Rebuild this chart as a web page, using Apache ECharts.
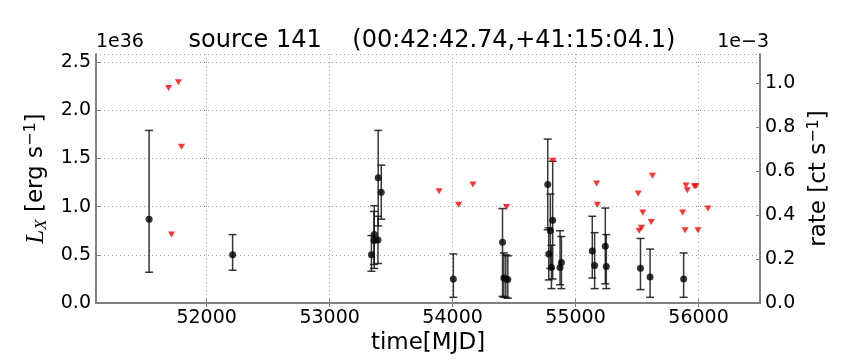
<!DOCTYPE html>
<html>
<head>
<meta charset="utf-8">
<script src="https://cdn.jsdelivr.net/npm/echarts@6/dist/echarts.min.js"></script>
<style>
  html, body { margin: 0; padding: 0; background: #fff; }
  #chart { width: 864px; height: 360px; }
</style>
</head>
<body>
<div id="chart"></div>
<script>
// detections (L_X in 1e36 erg/s) with error bar ends
const detMjd = [51532, 52211, 53340, 53361, 53363, 53393, 53395, 53420, 54006, 54406, 54417, 54433, 54449,
  54774, 54782, 54795, 54804, 54814, 54874, 54885, 55136, 55155, 55242, 55250, 55528, 55606, 55879]
const detLx = [0.87, 0.50, 0.50, 0.65, 0.71, 0.655, 1.30, 1.15, 0.25, 0.63, 0.26, 0.25, 0.245,
  1.23, 0.51, 0.75, 0.37, 0.86, 0.37, 0.42, 0.54, 0.39, 0.59, 0.38, 0.36, 0.27, 0.25]
const detLo = [0.32, 0.34, 0.33, 0.40, 0.36, 0.41, 0.80, 0.87, 0.06, 0.07, 0.06, 0.06, 0.05,
  0.76, 0.24, 0.36, 0.15, 0.25, 0.19, 0.15, 0.26, 0.15, 0.20, 0.15, 0.14, 0.06, 0.06]
const detHi = [1.79, 0.71, 0.70, 0.95, 1.01, 0.90, 1.79, 1.43, 0.51, 0.98, 0.52, 0.50, 0.49,
  1.70, 0.78, 1.13, 0.60, 1.47, 0.75, 0.69, 0.90, 0.73, 0.985, 0.71, 0.67, 0.56, 0.52]

// upper limits
const ulMjd = [51690, 51714, 51770, 51795, 53890, 54049, 54165, 54438, 54814, 55171, 55177,
  55509, 55517, 55536, 55547, 55615, 55625, 55871, 55890, 55898, 55909, 55966, 55979, 55995, 56077]
const ulLx = [2.23, 0.71, 2.29, 1.62, 1.16, 1.02, 1.23, 0.995, 1.475, 1.24, 1.02,
  1.135, 0.75, 0.78, 0.94, 0.84, 1.32, 0.94, 0.755, 1.22, 1.17, 1.21, 1.21, 0.755, 0.98]

const xTicks = [52000, 53000, 54000, 55000, 56000]

const FONT = 'DejaVu Sans'
const GRID_LINE = { lineStyle: { color: '#a0a0a0', type: [1, 3], width: 1 } }
const AX_LINE = { lineStyle: { color: '#808080', width: 2 } }

const chart = echarts.init(document.getElementById('chart'), null, { renderer: 'canvas' })

const option = {
  animation: false,
  backgroundColor: '#fff',
  title: {
    text: 'source 141    (00:42:42.74,+41:15:04.1)',
    left: 'center',
    top: 24,
    textStyle: { fontFamily: FONT, fontSize: 24, fontWeight: 'normal', color: '#000' },
  },
  grid: { left: 96, right: 104, top: 54, bottom: 55 },
  xAxis: [
    {
      type: 'value', min: 51100, max: 56500,
      name: 'time[MJD]', nameLocation: 'middle', nameGap: 23,
      nameTextStyle: { fontFamily: FONT, fontSize: 23, color: '#000' },
      axisLine: AX_LINE,
      axisTick: { inside: true, length: 4, customValues: xTicks, lineStyle: { color: '#808080' } },
      axisLabel: {
        customValues: xTicks, fontFamily: FONT, fontSize: 19, color: '#000', margin: 5,
        formatter: v => String(v),
      },
      splitLine: { show: true, ...GRID_LINE },
    },
    {
      type: 'value', min: 51100, max: 56500, position: 'top',
      axisLine: AX_LINE,
      axisTick: { inside: true, length: 4, customValues: xTicks, lineStyle: { color: '#808080' } },
      axisLabel: { show: false },
      splitLine: { show: false },
    },
  ],
  yAxis: [
    {
      type: 'value', min: 0, max: 2.582, interval: 0.5,
      name: '{i|L}{sub|X} [erg s{sup|−1}]',
      nameLocation: 'middle', nameGap: 35, nameRotate: 90,
      nameTextStyle: {
        fontFamily: FONT, fontSize: 23, color: '#000',
        rich: {
          i: { fontFamily: 'Liberation Serif', fontStyle: 'italic', fontSize: 25, color: '#000' },
          sub: { fontFamily: 'Liberation Serif', fontStyle: 'italic', fontSize: 17, color: '#000', verticalAlign: 'bottom', padding: [10, 0, 0, 0] },
          sup: { fontFamily: FONT, fontSize: 16, color: '#000', verticalAlign: 'top', padding: [0, 0, 10, 0] },
        },
      },
      axisLine: { show: true, ...AX_LINE },
      axisTick: { show: true, inside: true, length: 4, lineStyle: { color: '#808080' } },
      axisLabel: {
        fontFamily: FONT, fontSize: 19, color: '#000', margin: 5, showMaxLabel: false,
        formatter: v => v.toFixed(1),
      },
      splitLine: { show: true, ...GRID_LINE },
    },
    {
      type: 'value', min: 0, max: 1.131, interval: 0.2, position: 'right',
      name: 'rate [ct s{sup|−1}]',
      nameLocation: 'middle', nameGap: 42, nameRotate: 90,
      nameTextStyle: {
        fontFamily: FONT, fontSize: 23, color: '#000',
        rich: {
          sup: { fontFamily: FONT, fontSize: 16, color: '#000', verticalAlign: 'top', padding: [0, 0, 10, 0] },
        },
      },
      axisLine: { show: true, ...AX_LINE },
      axisTick: { show: true, inside: true, length: 4, lineStyle: { color: '#808080' } },
      axisLabel: {
        fontFamily: FONT, fontSize: 19, color: '#000', margin: 5, showMaxLabel: false,
        formatter: v => v.toFixed(1),
      },
      splitLine: { show: false },
    },
  ],
  graphic: [
    { type: 'text', left: 96, top: 33, style: { text: '1e36', font: '19px "DejaVu Sans"', fill: '#000' } },
    { type: 'text', right: 95, top: 33, style: { text: '1e−3', font: '19px "DejaVu Sans"', fill: '#000' } },
  ],
  series: [
    // error bars
    {
      type: 'custom',
      xAxisIndex: 0, yAxisIndex: 0,
      data: detMjd.map((m, i) => [m, detLo[i], detHi[i]]),
      renderItem: (params, api) => {
        const lo = api.coord([api.value(0), api.value(1)])
        const hi = api.coord([api.value(0), api.value(2)])
        const cap = 4
        const style = { stroke: 'rgba(20,20,20,0.85)', lineWidth: 1.5 }
        return {
          type: 'group',
          children: [
            { type: 'line', shape: { x1: lo[0], y1: lo[1], x2: hi[0], y2: hi[1] }, style },
            { type: 'line', shape: { x1: lo[0] - cap, y1: lo[1], x2: lo[0] + cap, y2: lo[1] }, style },
            { type: 'line', shape: { x1: hi[0] - cap, y1: hi[1], x2: hi[0] + cap, y2: hi[1] }, style },
          ],
        }
      },
      z: 2,
    },
    // detections
    {
      type: 'scatter',
      xAxisIndex: 0, yAxisIndex: 0,
      data: detMjd.map((m, i) => [m, detLx[i]]),
      symbol: 'circle', symbolSize: 7,
      itemStyle: { color: '#000' },
      z: 3,
    },
    // upper limits
    {
      type: 'scatter',
      xAxisIndex: 0, yAxisIndex: 0,
      data: ulMjd.map((m, i) => [m, ulLx[i]]),
      symbol: 'triangle', symbolRotate: 180, symbolSize: [7, 6],
      itemStyle: { color: '#ff0000' },
      z: 4,
    },
  ],
}

chart.setOption(option)
</script>
</body>
</html>
